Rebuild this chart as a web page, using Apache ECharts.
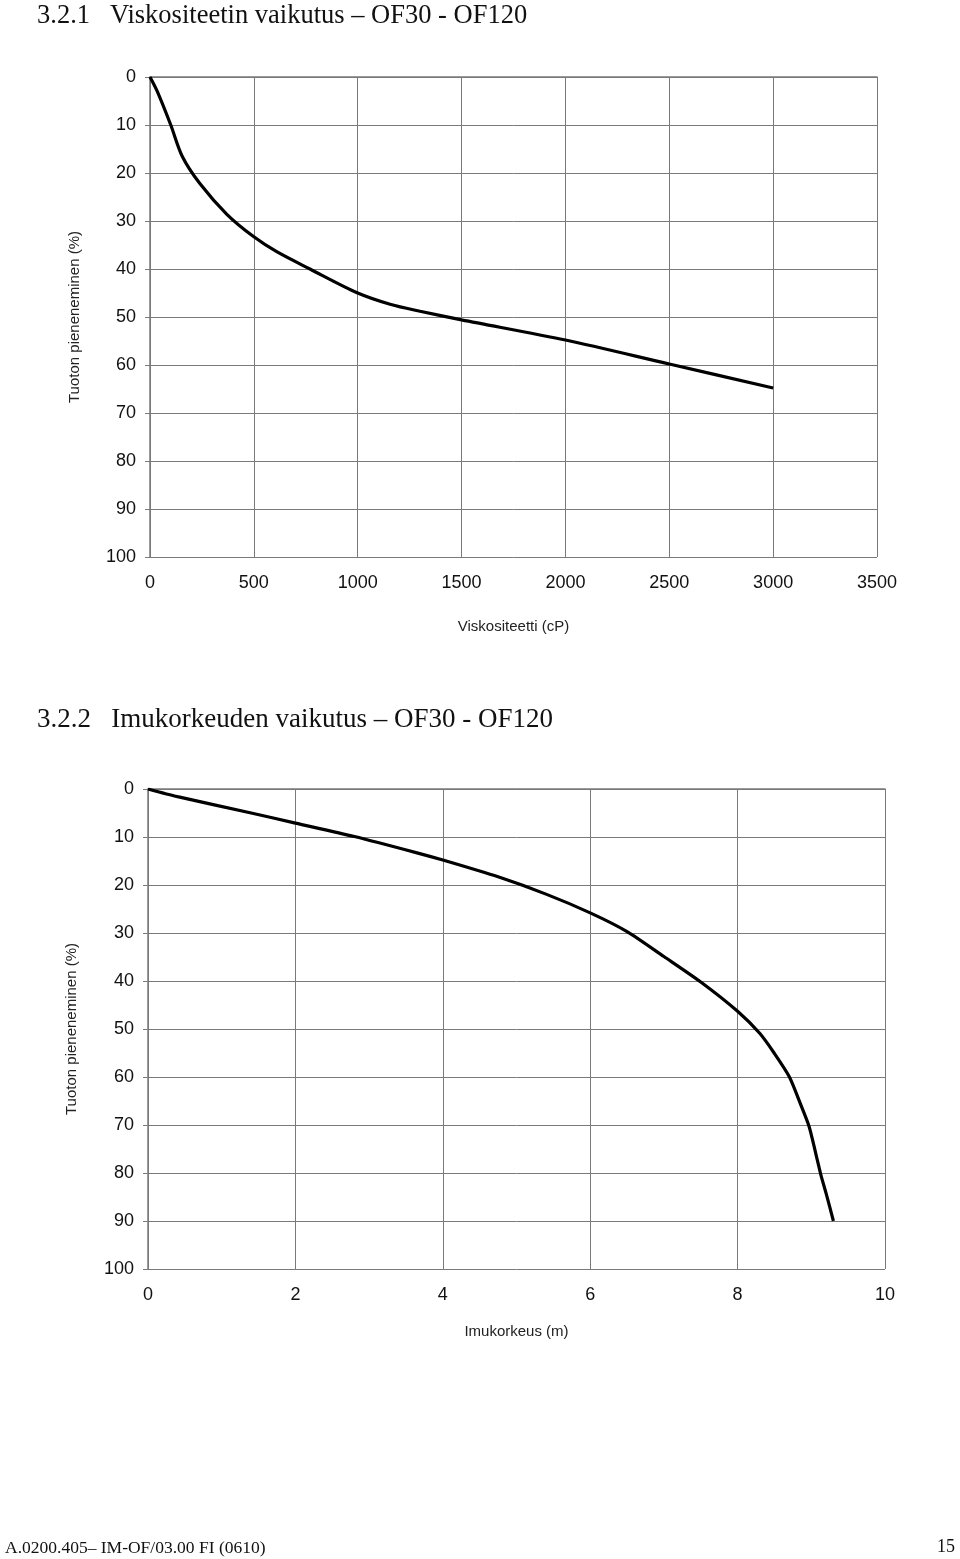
<!DOCTYPE html>
<html><head><meta charset="utf-8">
<script src="https://cdn.jsdelivr.net/npm/echarts@6/dist/echarts.min.js"></script>
<style>html,body{margin:0;padding:0;background:#fff}#c{width:960px;height:1559px}</style>
</head><body><div id="c"></div>
<script>
// Chart 1: viscosity (cP) vs output reduction (%)
const viscX = [0, 35, 100, 155, 240, 370, 500, 610, 770, 1000, 1160, 1300, 1500, 2000, 2500, 3000];
const viscY = [0, 3, 10, 16.5, 22.2, 28.6, 33.3, 36.4, 40, 45, 47.4, 48.8, 50.6, 54.8, 59.8, 64.8];
// Chart 2: suction height (m) vs output reduction (%)
const suctX = [0, 0.4, 1.4, 2, 2.8, 3.65, 4, 4.75, 5.4, 6, 6.5, 7.0, 7.5, 8.0, 8.3, 8.5, 8.7, 8.85, 8.97, 9.06, 9.13, 9.2, 9.3];
const suctY = [0, 1.6, 5, 7.1, 9.9, 13.3, 14.8, 18.3, 21.9, 25.8, 29.7, 34.9, 40.2, 46.3, 50.9, 55.1, 59.9, 65.5, 70.3, 75.9, 80.4, 84.2, 90];
const title1 = '3.2.1   Viskositeetin vaikutus – OF30 - OF120';
const title2 = '3.2.2   Imukorkeuden vaikutus – OF30 - OF120';
const yName = 'Tuoton pieneneminen (%)';
const xName1 = 'Viskositeetti (cP)';
const xName2 = 'Imukorkeus (m)';
const footerLeft = 'A.0200.405– IM-OF/03.00 FI (0610)';
const footerRight = '15';

const gridColor = '#7a7a7a';
const sans = 'Liberation Sans, Arial, sans-serif';
const serif = 'Liberation Serif, Times New Roman, serif';

function xAxis(gi, max, interval, name, labelMargin, nameGap) {
  return {
    type: 'value', gridIndex: gi, min: 0, max: max, interval: interval,
    name: name, nameLocation: 'middle', nameGap: nameGap,
    nameTextStyle: { fontFamily: sans, fontSize: 15, color: '#222' },
    axisLine: { show: true, lineStyle: { color: gridColor, width: 1.5 } },
    axisTick: { show: true, length: 5, lineStyle: { color: gridColor } },
    axisLabel: { fontFamily: sans, fontSize: 18, color: '#111', margin: labelMargin, formatter: v => String(v) },
    splitLine: { show: true, lineStyle: { color: gridColor, width: 1 } }
  };
}
function yAxis(gi, gap) {
  return {
    type: 'value', gridIndex: gi, min: 0, max: 100, interval: 10, inverse: true,
    name: yName, nameLocation: 'middle', nameGap: gap, nameRotate: 90,
    nameTextStyle: { fontFamily: sans, fontSize: 15, color: '#222' },
    axisLine: { show: true, lineStyle: { color: gridColor, width: 1.5 } },
    axisTick: { show: true, length: 5, lineStyle: { color: gridColor } },
    axisLabel: { fontFamily: sans, fontSize: 18, color: '#111', margin: 14, formatter: v => String(v) },
    splitLine: { show: true, lineStyle: { color: gridColor, width: 1 } }
  };
}

const chart = echarts.init(document.getElementById('c'), null, { renderer: 'canvas' });
chart.setOption({
  backgroundColor: '#fff',
  animation: false,
  title: [
    { text: title1, left: 32, top: -2, textStyle: { fontFamily: serif, fontSize: 26.5, fontWeight: 'normal', color: '#111' } },
    { text: title2, left: 32, top: 701, textStyle: { fontFamily: serif, fontSize: 27, fontWeight: 'normal', color: '#111' } },
    { text: footerLeft, left: 0, top: 1534, textStyle: { fontFamily: serif, fontSize: 17.5, fontWeight: 'normal', color: '#111' } },
    { text: footerRight, right: 0, top: 1533, textStyle: { fontFamily: serif, fontSize: 18, fontWeight: 'normal', color: '#111' } }
  ],
  grid: [
    { left: 150, top: 77, width: 727, height: 480 },
    { left: 148, top: 789, width: 737, height: 480 }
  ],
  xAxis: [ xAxis(0, 3500, 500, xName1, 17, 62), xAxis(1, 10, 2, xName2, 17, 55) ],
  yAxis: [ yAxis(0, 68), yAxis(1, 69) ],
  series: [
    { type: 'line', xAxisIndex: 0, yAxisIndex: 0, smooth: 0.3, symbol: 'none',
      lineStyle: { color: '#000', width: 3.2 },
      data: viscX.map((x, i) => [x, viscY[i]]) },
    { type: 'line', xAxisIndex: 1, yAxisIndex: 1, smooth: 0.25, symbol: 'none',
      lineStyle: { color: '#000', width: 3.2 },
      data: suctX.map((x, i) => [x, suctY[i]]) }
  ]
});
</script>
</body></html>
